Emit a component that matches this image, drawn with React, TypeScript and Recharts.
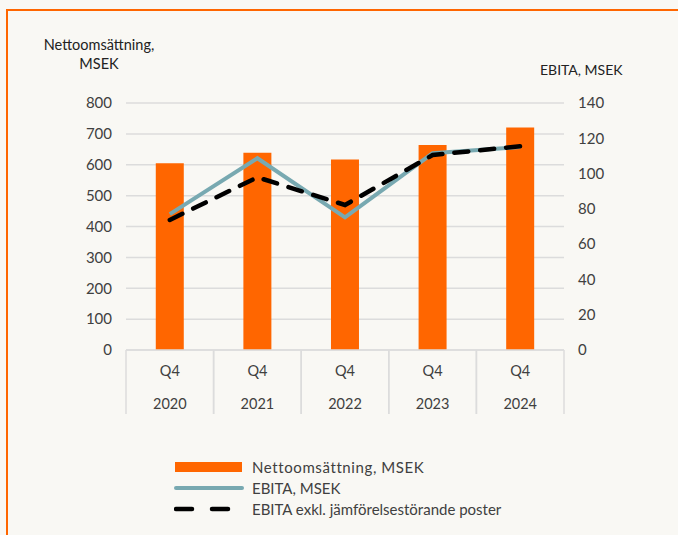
import { ComposedChart, Bar, Line, XAxis, YAxis, CartesianGrid } from 'recharts'

const QUARTERS = ['Q4', 'Q4', 'Q4', 'Q4', 'Q4']
const YEARS = ['2020', '2021', '2022', '2023', '2024']
const NET_SALES = [605, 639, 617, 664, 721]
const EBITA = [77, 108.7, 75.2, 111.5, 115]
const EBITA_ADJ = [73.7, 97.9, 82.2, 110.5, 115.5]
const LEFT_TICKS = [0, 100, 200, 300, 400, 500, 600, 700, 800]
const RIGHT_TICKS = [0, 20, 40, 60, 80, 100, 120, 140]

const data = YEARS.map((year, i) => ({
  year,
  quarter: QUARTERS[i],
  sales: NET_SALES[i],
  ebita: EBITA[i],
  ebitaAdj: EBITA_ADJ[i],
}))

const FONT = 'Lato, "Open Sans", sans-serif'
const TEXT = '#404040'
const GRID = '#dcdcdc'
const ORANGE = '#ff6600'
const TEAL = '#78a9b1'
const BAND = (564 - 126) / YEARS.length

function CategoryTick(props: any) {
  const { x, y, payload, index } = props
  const half = BAND / 2
  return (
    <g>
      <line x1={x - half} y1={y} x2={x - half} y2={y + 64} stroke={GRID} strokeWidth={1.5} />
      <line x1={x + half} y1={y} x2={x + half} y2={y + 64} stroke={GRID} strokeWidth={1.5} />
      <text x={x} y={y + 21} dy="0.35em" textAnchor="middle" fill={TEXT} fontSize={14.5} fontFamily={FONT}>
        {QUARTERS[index] ?? 'Q4'}
      </text>
      <text x={x} y={y + 54} dy="0.35em" textAnchor="middle" fill={TEXT} fontSize={14.5} fontFamily={FONT}>
        {payload.value}
      </text>
    </g>
  )
}

function LegendBox() {
  const row = { display: 'flex', alignItems: 'center', height: 21 } as const
  const label = { marginLeft: 8, fontSize: 15, color: TEXT, fontFamily: FONT, whiteSpace: 'nowrap' as const }
  return (
    <div style={{ display: 'flex', flexDirection: 'column' }}>
      <div style={row}>
        <svg width={70} height={12}>
          <rect x={1} y={1} width={67} height={10} fill={ORANGE} />
        </svg>
        <span style={{ ...label, letterSpacing: 0.6 }}>Nettoomsättning, MSEK</span>
      </div>
      <div style={row}>
        <svg width={70} height={12}>
          <line x1={2} y1={6} x2={68} y2={6} stroke={TEAL} strokeWidth={4} strokeLinecap="round" />
        </svg>
        <span style={label}>EBITA, MSEK</span>
      </div>
      <div style={row}>
        <svg width={70} height={12}>
          <line x1={2} y1={6} x2={18} y2={6} stroke="#000" strokeWidth={4.5} strokeLinecap="round" />
          <line x1={38} y1={6} x2={54} y2={6} stroke="#000" strokeWidth={4.5} strokeLinecap="round" />
        </svg>
        <span style={label}>EBITA exkl. jämförelsestörande poster</span>
      </div>
    </div>
  )
}

export default function App() {
  const titleStyle = {
    position: 'absolute' as const,
    color: '#222',
    fontFamily: FONT,
    lineHeight: '19px',
    whiteSpace: 'nowrap' as const,
  }
  return (
    <div
      style={{
        position: 'absolute',
        left: 0,
        top: 0,
        width: 678,
        height: 535,
        background: '#f9f8f4',
        overflow: 'hidden',
      }}
    >
      {/* orange frame, only top and left edges are visible */}
      <div
        style={{
          position: 'absolute',
          left: 6,
          top: 9,
          width: 700,
          height: 560,
          borderLeft: `2px solid ${ORANGE}`,
          borderTop: `2px solid ${ORANGE}`,
        }}
      />
      <div style={{ ...titleStyle, fontSize: 14.5, left: 39, top: 35, textAlign: 'center', width: 120 }}>
        Nettoomsättning,
        <br />
        MSEK
      </div>
      <div style={{ ...titleStyle, fontSize: 14, left: 540, top: 60 }}>EBITA, MSEK</div>

      <ComposedChart
        width={678}
        height={535}
        data={data}
        margin={{ top: 103, right: 0, bottom: 120, left: 0 }}
        barCategoryGap="34%"
        style={{ position: 'absolute', left: 0, top: 0 }}
      >
        <CartesianGrid vertical={false} stroke={GRID} strokeWidth={1.5} yAxisId="left" />
        <XAxis
          dataKey="year"
          height={65}
          tickLine={false}
          tickSize={0}
          tickMargin={0}
          axisLine={{ stroke: GRID, strokeWidth: 1.5 }}
          tick={<CategoryTick />}
          interval={0}
        />
        <YAxis
          yAxisId="left"
          width={126}
          domain={[0, 800]}
          ticks={LEFT_TICKS}
          axisLine={false}
          tickLine={false}
          tickSize={0}
          tickMargin={14}
          tick={{ fill: TEXT, fontSize: 15, fontFamily: FONT }}
        />
        <YAxis
          yAxisId="right"
          orientation="right"
          width={114}
          domain={[0, 140]}
          ticks={RIGHT_TICKS}
          axisLine={false}
          tickLine={false}
          tickSize={0}
          tickMargin={14}
          tick={{ fill: TEXT, fontSize: 15, fontFamily: FONT, textAnchor: 'start' }}
        />
        <Bar yAxisId="left" dataKey="sales" fill={ORANGE} isAnimationActive={false} />
        <Line
          yAxisId="right"
          dataKey="ebita"
          stroke={TEAL}
          strokeWidth={4}
          dot={false}
          type="linear"
          isAnimationActive={false}
        />
        <Line
          yAxisId="right"
          dataKey="ebitaAdj"
          stroke="#000"
          strokeWidth={4.5}
          strokeDasharray="14 12"
          strokeLinecap="round"
          dot={false}
          type="linear"
          isAnimationActive={false}
        />
      </ComposedChart>
      <div style={{ position: 'absolute', left: 174, top: 456 }}>
        <LegendBox />
      </div>
    </div>
  )
}
